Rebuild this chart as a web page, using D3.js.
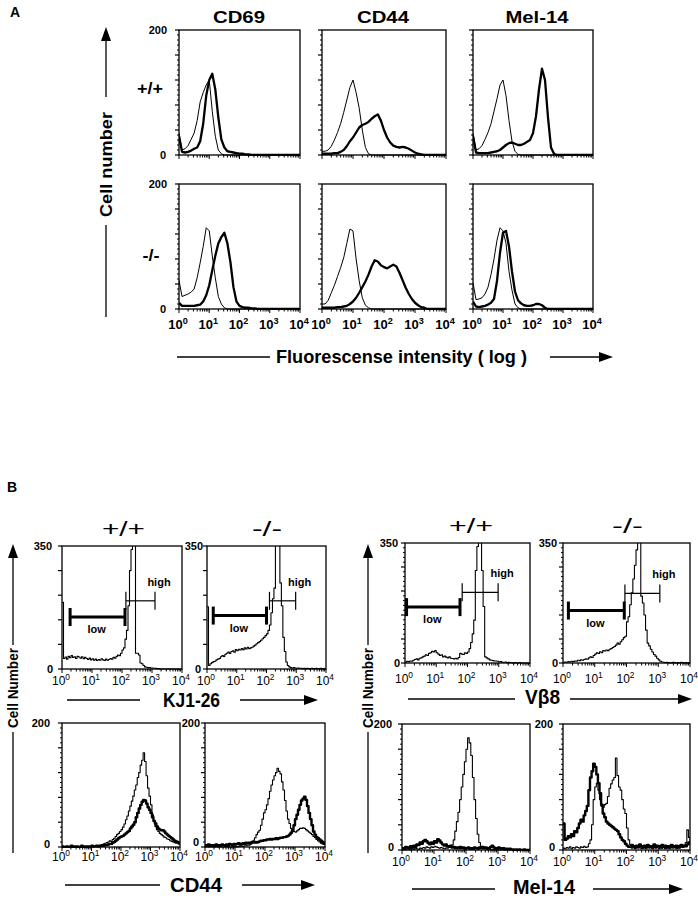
<!DOCTYPE html>
<html><head><meta charset="utf-8">
<script src="https://cdn.jsdelivr.net/npm/d3@7"></script>
<style>body{margin:0;background:#fff}svg{display:block}text{font-family:"Liberation Sans",Arial,Helvetica,sans-serif;fill:#000}</style>
</head><body><svg id="c" width="698" height="899"></svg>
<script>
// ---------------- DATA ----------------
const titlesA = ["CD69", "CD44", "Mel-14"];
const genotypes = ["+/+", "-/-"];
const decadeExps = [0, 1, 2, 3, 4];
const topMarkersB = ["KJ1-26", "Vβ8"];
const bottomMarkersB = ["CD44", "Mel-14"];
const ymaxA = 200, ymaxBTop = 350, ymaxBBottom = 200;
const yAxisTitleA = "Cell number", xAxisTitleA = "Fluorescense intensity ( log )";
const yAxisTitleB = "Cell Number";

// Panel A: counts at log10 intensity 0.0,0.1,...,4.0
const cd69WtThin  = [35,8,10,15,25,35,55,85,100,112,120,70,30,8,2,0,0,0,0,0,0,0,0,0,0,0,0,0,0,0,0,0,0,0,0,0,0,0,0,0,0];
const cd69WtThick = [30,5,4,5,7,10,12,22,50,95,120,130,105,60,25,12,6,5,4,3,2,2,1,1,0,0,0,0,0,0,0,0,0,0,0,0,0,0,0,0,0];
const cd44WtThin  = [6,6,8,14,24,36,50,68,88,108,120,100,75,40,12,2,0,0,0,0,0,0,0,0,0,0,0,0,0,0,0,0,0,0,0,0,0,0,0,0,0];
const cd44WtThick = [2,2,2,2,3,3,5,8,14,22,28,36,44,48,50,53,58,62,65,55,40,28,20,15,13,12,13,12,10,7,4,2,1,0,0,0,0,0,0,0,0];
const melWtThin   = [35,8,10,15,25,36,50,70,90,112,120,95,55,22,6,1,0,0,0,0,0,0,0,0,0,0,0,0,0,0,0,0,0,0,0,0,0,0,0,0,0];
const melWtThick  = [30,4,3,3,3,3,4,5,6,8,12,16,19,20,18,16,16,18,21,24,35,62,105,138,120,60,12,2,0,0,0,0,0,0,0,0,0,0,0,0,0];
const cd69KoThin  = [46,20,22,24,27,32,50,74,100,130,125,85,50,20,8,2,0,0,0,0,0,0,0,0,0,0,0,0,0,0,0,0,0,0,0,0,0,0,0,0,0];
const cd69KoThick = [10,5,5,5,5,5,6,7,12,22,38,62,85,105,115,122,105,75,35,12,5,3,2,2,1,1,0,0,0,0,0,0,0,0,0,0,0,0,0,0,0];
const cd44KoThin  = [8,8,14,26,38,52,66,82,105,128,125,80,45,18,6,2,0,0,0,0,0,0,0,0,0,0,0,0,0,0,0,0,0,0,0,0,0,0,0,0,0];
const cd44KoThick = [2,2,2,2,2,3,3,4,5,8,12,18,26,35,44,55,68,78,76,70,67,65,68,71,68,58,46,34,24,16,10,6,3,2,0,0,0,0,0,0,0];
const melKoThin   = [42,15,16,18,24,35,55,80,110,130,125,105,60,30,8,2,0,0,0,0,0,0,0,0,0,0,0,0,0,0,0,0,0,0,0,0,0,0,0,0,0];
const melKoThick  = [12,4,3,4,5,7,10,16,45,90,122,125,100,60,28,14,9,6,5,5,6,8,8,6,2,0,0,0,0,0,0,0,0,0,0,0,0,0,0,0,0];

// Panel B: counts at log10 intensity 0.00,0.05,...,4.00
const kjWt = [190,30,34,28,36,32,38,33,35,30, 36,34,31,35,29,33,30,27,31,26, 29,25,28,24,27,25,29,26,24,28, 25,27,30,28,33,31,36,40,38,45,
  54,60,85,110,180,280,340,420,420,45, 45,40,17,15,10,6,5,4,4,3, 3,2,2,1,1,0,0,0,0,0, 0,0,0,0,0,0,0,0,0,0, 0];
const kjKo = [177,10,15,18,21,22,26,28,30,35, 38,36,42,45,48,44,50,52,48,55, 52,56,54,58,55,60,57,62,58,60, 62,65,68,72,75,78,82,86,90,95,
  100,110,125,160,200,230,380,400,400,245, 180,90,50,20,10,6,4,3,4,3, 2,3,2,2,1,2,1,2,1,1, 2,1,1,2,1,1,2,1,1,0, 1];
const vbWt = [3,5,4,6,5,8,10,12,9,14, 15,18,20,24,22,28,30,34,32,36, 30,26,22,24,18,20,17,15,18,14, 13,12,14,12,16,28,26,25,30,28,
  32,42,60,85,125,270,340,400,400,270, 165,18,15,12,9,8,7,6,6,5, 3,4,2,2,3,1,2,1,1,0, 1,0,0,1,0,0,0,0,0,0, 0];
const vbKo = [2,3,2,4,3,5,4,6,5,8, 7,9,8,10,12,11,15,18,16,22, 26,30,28,33,30,36,35,38,36,40, 42,45,48,52,58,55,62,68,74,78,
  120,135,170,205,245,285,330,400,400,195, 175,140,96,58,50,40,32,25,20,14, 9,5,3,2,1,2,1,0,1,2, 1,0,1,0,2,1,0,1,0,1, 0];
const cd44BWtThin = [0,0,1,0,0,1,0,0,0,1, 0,0,1,0,0,1,0,1,0,0, 1,0,1,1,0,2,3,4,5,6, 7,8,10,9,12,14,17,20,22,25,
  28,32,37,44,50,58,66,74,82,92, 100,112,120,132,140,152,138,115,95,82, 68,52,42,33,28,25,22,20,18,16, 15,13,12,10,9,8,7,6,6,5, 4];
const cd44BWtThick = [1,0,0,1,0,0,2,0,1,0, 1,0,0,2,1,0,1,0,1,1, 2,1,1,2,1,2,2,3,2,3, 3,4,5,5,7,8,10,12,14,16,
  17,18,20,22,24,26,30,33,36,40, 48,55,62,68,73,76,75,70,64,60, 55,48,42,38,33,30,28,27,27,25, 22,20,18,16,14,12,10,9,8,6, 5];
const cd44BKoThin = [0,1,0,0,1,0,0,1,0,0, 1,0,0,1,0,1,0,0,1,0, 1,0,1,1,2,1,2,2,3,3, 5,8,11,15,20,24,27,35,45,55,
  60,68,78,90,100,108,115,120,127,122, 118,105,92,75,58,45,38,30,26,25, 24,26,28,30,30,31,30,28,26,24, 22,20,17,15,12,10,8,6,5,4, 3];
const cd44BKoThick = [3,2,4,2,3,2,3,4,2,3, 3,4,3,2,4,3,5,4,3,5, 4,5,6,4,5,6,5,7,6,7, 6,8,7,8,7,8,9,10,10,11,
  11,12,12,13,12,13,13,14,13,14, 15,15,16,16,17,18,20,23,27,35, 45,52,60,68,75,78,81,76,66,55, 45,35,25,20,16,14,12,10,8,6, 5];
const melBWtThin = [0,1,0,2,1,0,2,1,3,2, 1,3,2,4,3,5,4,3,5,4, 6,5,4,3,4,3,2,3,3,4, 5,8,16,30,45,60,80,100,120,140,
  160,178,170,150,115,80,50,25,12,6, 3,2,3,1,2,1,0,1,0,1, 0,0,1,0,0,0,1,0,0,0, 0,0,0,0,0,0,0,0,0,0, 0];
const melBWtThick = [3,2,5,4,3,6,4,7,5,9, 8,12,10,14,16,14,11,9,12,10, 14,12,17,15,12,9,7,9,6,5, 7,4,5,3,4,3,5,3,4,2,
  3,4,2,3,2,4,3,2,4,3, 5,3,4,2,3,5,7,4,3,2, 4,3,2,3,1,2,1,2,1,1, 0,1,0,1,0,0,1,0,0,0, 0];
const melBKoThick = [42,16,18,22,20,25,22,30,28,35, 42,48,45,55,62,70,95,115,125,137, 132,120,106,90,72,58,52,45,42,40, 38,36,34,32,30,25,20,16,14,10,
  7,5,5,8,6,4,7,5,9,6, 4,7,5,8,5,6,4,9,5,7, 6,4,8,5,7,4,6,5,8,6, 5,7,4,6,8,5,7,6,9,12, 8];
const melBKoThin = [3,2,4,3,5,2,4,3,5,4, 3,5,4,6,4,5,10,16,40,80, 100,106,95,80,69,68,72,74,85,98, 105,111,115,146,118,100,95,80,65,58,
  35,16,8,3,5,2,4,3,6,2, 3,5,2,4,3,6,2,5,3,4, 2,6,3,4,2,5,3,2,4,3, 5,2,4,3,6,4,8,12,32,20, 10];

// gates: [from log, to log, count level]
const gateKjWt = {low:[0.27,2.1,148], high:[2.13,3.1,194]};
const gateKjKo = {low:[0.21,2.0,152], high:[2.1,2.98,194]};
const gateVbWt = {low:[0.05,1.76,163], high:[1.83,2.98,206]};
const gateVbKo = {low:[0.17,1.93,153], high:[1.95,3.05,203]};

// ---------------- DRAWING ----------------
const svg = d3.select("#c");
const gridA = d3.range(0, 4.0001, 0.1);
const gridB = d3.range(0, 4.0001, 0.05);
let clipN = 0;

function panel(p){
  const x = d3.scaleLog().domain([1, 1e4]).range([p.x0, p.x1]);
  const y = d3.scaleLinear().domain([0, p.ymax]).range([p.y1, p.y0]);
  const id = "clip" + (clipN++);
  svg.append("clipPath").attr("id", id).append("rect")
    .attr("x", p.x0).attr("y", p.y0).attr("width", p.x1 - p.x0).attr("height", p.y1 - p.y0 + 1);
  const g = svg.append("g");
  p.series.forEach(s => {
    const pts = s.grid.map((e, i) => [e, s.values[i]]);
    g.append("path").attr("clip-path", `url(#${id})`)
      .attr("d", d3.line().x(d => x(Math.pow(10, d[0]))).y(d => y(d[1])).curve(s.curve)(pts))
      .attr("fill", "none").attr("stroke", "#000").attr("stroke-width", s.w).attr("stroke-linejoin", "round");
  });
  g.append("rect").attr("x", p.x0).attr("y", p.y0).attr("width", p.x1 - p.x0).attr("height", p.y1 - p.y0)
    .attr("fill", "none").attr("stroke", "#000").attr("stroke-width", 1.3);
  // x ticks (log)
  x.ticks().forEach(v => {
    const lv = Math.log10(v), major = Math.abs(lv - Math.round(lv)) < 1e-9;
    g.append("line").attr("x1", x(v)).attr("x2", x(v)).attr("y1", p.y1).attr("y2", p.y1 + (major ? 4 : 2.5))
      .attr("stroke", "#000").attr("stroke-width", 1);
  });
  // y ticks
  const step = p.ymax / 25;
  d3.range(0, 26).forEach(k => {
    const major = k % 5 === 0;
    if (!major && !p.minor) return;
    const yy = y(k * step);
    g.append("line").attr("x1", p.x0).attr("x2", p.x0 - (major ? 4 : 2)).attr("y1", yy).attr("y2", yy)
      .attr("stroke", "#000").attr("stroke-width", major ? 1.2 : 1);
  });
  // y labels
  if (p.ylab) {
    g.append("text").attr("x", p.x0 - p.lab).attr("y", y(p.ymax) + 4).attr("text-anchor", "end")
      .attr("font-size", 11).attr("font-weight", "bold").text(p.ymax);
    g.append("text").attr("x", p.x0 - p.lab0).attr("y", y(0) + (p.y0lift || 4)).attr("text-anchor", "end")
      .attr("font-size", 11).attr("font-weight", "bold").text(0);
  }
  // x labels
  if (p.xlab) {
    decadeExps.forEach(e => {
      const t = g.append("text").attr("x", x(Math.pow(10, e)) - 1).attr("y", p.y1 + p.xlab)
        .attr("text-anchor", "middle").attr("font-size", p.xfs).attr("font-weight", p.xfw);
      t.append("tspan").text("10");
      t.append("tspan").attr("dy", -5).attr("font-size", p.xfs * 0.7).text(e);
    });
  }
  // gates
  if (p.gate) {
    const gl = p.gate.low, gh = p.gate.high;
    const ly = y(gl[2]), hy = y(gh[2]);
    const lx0 = x(Math.pow(10, gl[0])), lx1 = x(Math.pow(10, gl[1]));
    const hx0 = x(Math.pow(10, gh[0])), hx1 = x(Math.pow(10, gh[1]));
    g.append("line").attr("x1", lx0).attr("x2", lx1).attr("y1", ly).attr("y2", ly).attr("stroke", "#000").attr("stroke-width", 3);
    [lx0, lx1].forEach(xx => g.append("line").attr("x1", xx).attr("x2", xx).attr("y1", ly - 9).attr("y2", ly + 9).attr("stroke", "#000").attr("stroke-width", 3));
    g.append("line").attr("x1", hx0).attr("x2", hx1).attr("y1", hy).attr("y2", hy).attr("stroke", "#000").attr("stroke-width", 1.2);
    [hx0, hx1].forEach(xx => g.append("line").attr("x1", xx).attr("x2", xx).attr("y1", hy - 9).attr("y2", hy + 9).attr("stroke", "#000").attr("stroke-width", 1.2));
    g.append("text").attr("x", (lx0 + lx1) / 2 - 1).attr("y", ly + 16).attr("text-anchor", "middle")
      .attr("font-size", 11).attr("font-weight", "bold").text("low");
    g.append("text").attr("x", hx1 + 4).attr("y", hy - 15).attr("text-anchor", "middle")
      .attr("font-size", 11).attr("font-weight", "bold").text("high");
  }
}

function txt(x, y, s, fs, fw, len, anchor){
  const t = svg.append("text").attr("x", x).attr("y", y).attr("font-size", fs).attr("font-weight", fw)
    .attr("text-anchor", anchor || "middle").text(s);
  if (len) t.attr("textLength", len).attr("lengthAdjust", "spacingAndGlyphs");
  return t;
}
function vtxt(x, cy, s, fs, len){
  svg.append("text").attr("transform", `translate(${x},${cy}) rotate(-90)`).attr("text-anchor", "middle")
    .attr("dominant-baseline", "central").attr("font-size", fs).attr("font-weight", "bold")
    .attr("textLength", len).attr("lengthAdjust", "spacingAndGlyphs").text(s);
}
function hline(y, x0, x1){ svg.append("line").attr("x1", x0).attr("x2", x1).attr("y1", y).attr("y2", y).attr("stroke", "#000").attr("stroke-width", 1.3); }
function vline(x, y0, y1){ svg.append("line").attr("x1", x).attr("x2", x).attr("y1", y0).attr("y2", y1).attr("stroke", "#000").attr("stroke-width", 1.3); }
function arrowR(y, x0, tip){ hline(y, x0, tip - 12); svg.append("path").attr("d", `M${tip},${y}L${tip-14},${y-5}L${tip-14},${y+5}Z`).attr("fill", "#000"); }
function arrowU(x, tip, y1){ vline(x, tip + 12, y1); svg.append("path").attr("d", `M${x},${tip}L${x-5},${tip+14}L${x+5},${tip+14}Z`).attr("fill", "#000"); }

// ----- Panel A -----
const colsA = [[179, 300], [322, 446], [473, 593]];
const rowsA = [[30, 155], [184, 309]];
const seriesA = [
  [[cd69WtThin, cd69WtThick], [cd44WtThin, cd44WtThick], [melWtThin, melWtThick]],
  [[cd69KoThin, cd69KoThick], [cd44KoThin, cd44KoThick], [melKoThin, melKoThick]]
];
rowsA.forEach((r, ri) => colsA.forEach((c, ci) => {
  panel({x0: c[0], x1: c[1], y0: r[0], y1: r[1], ymax: ymaxA, minor: true, ylab: ci === 0, lab: 12, lab0: 13,
    xlab: ri === 1 ? 20 : 0, xfs: 13, xfw: "bold",
    series: [
      {grid: gridA, values: seriesA[ri][ci][0], w: 1, curve: d3.curveLinear},
      {grid: gridA, values: seriesA[ri][ci][1], w: 2.3, curve: d3.curveLinear}
    ]});
}));
txt(10, 17, "A", 14, "bold", null, "start");
const titleCx = [239, 383, 537], titleLen = [52, 52, 63];
titlesA.forEach((t, i) => txt(titleCx[i], 23, t, 17, "bold", titleLen[i]));
txt(150, 94, genotypes[0], 17, "bold", 26);
txt(151, 261, genotypes[1], 17, "bold", 17);
arrowU(106, 27, 97);
vtxt(106, 164.5, yAxisTitleA, 17, 105);
vline(106, 225, 317);
hline(357, 177, 270);
txt(276, 363, xAxisTitleA, 18, "bold", 251, "start");
arrowR(357, 550, 613);

// ----- Panel B -----
txt(7, 492, "B", 14, "bold", null, "start");
const topB = [
  {x0: 62, x1: 182, y0: 546, y1: 669, values: kjWt, gate: gateKjWt, minor: false, lab: 10, lab0: 9, xlab: 16},
  {x0: 207, x1: 326, y0: 546, y1: 669, values: kjKo, gate: gateKjKo, minor: false, lab: 4, lab0: 6, xlab: 16},
  {x0: 405, x1: 530, y0: 543, y1: 663, values: vbWt, gate: gateVbWt, minor: true, lab: 7, lab0: 5, xlab: 20},
  {x0: 563, x1: 690, y0: 543, y1: 663, values: vbKo, gate: gateVbKo, minor: true, lab: 6, lab0: 5, xlab: 20}
];
topB.forEach(p => panel({x0: p.x0, x1: p.x1, y0: p.y0, y1: p.y1, ymax: ymaxBTop, minor: p.minor, ylab: true, lab: p.lab, lab0: p.lab0,
  xlab: p.xlab, xfs: 12, xfw: "normal", gate: p.gate,
  series: [{grid: gridB, values: p.values, w: 1.1, curve: d3.curveStepAfter}]}));
const botB = [
  {x0: 62, x1: 180, y0: 723, y1: 847, v: [cd44BWtThin, cd44BWtThick], lab: 12, lab0: 12, xlab: 14, lift: 1},
  {x0: 205, x1: 325, y0: 723, y1: 847, v: [cd44BKoThin, cd44BKoThick], lab: 5, lab0: 6, xlab: 14, lift: -1},
  {x0: 402, x1: 530, y0: 724, y1: 850, v: [melBWtThin, melBWtThick], lab: 10, lab0: 8, xlab: 16, lift: 1},
  {x0: 563, x1: 690, y0: 724, y1: 850, v: [melBKoThin, melBKoThick], lab: 10, lab0: 8, xlab: 16, lift: 1}
];
botB.forEach(p => panel({x0: p.x0, x1: p.x1, y0: p.y0, y1: p.y1, ymax: ymaxBBottom, minor: true, ylab: true, lab: p.lab, lab0: p.lab0,
  y0lift: p.lift, xlab: p.xlab, xfs: 12, xfw: "normal",
  series: [{grid: gridB, values: p.v[0], w: 1.1, curve: d3.curveStepAfter},
           {grid: gridB, values: p.v[1], w: 2.4, curve: d3.curveStepAfter}]}));
txt(123.5, 536, genotypes[0], 21, "normal", 43);
txt(267, 536, genotypes[1], 21, "normal", 30);
txt(471, 533, genotypes[0], 21, "normal", 44);
txt(627.5, 533, genotypes[1], 21, "normal", 31);
[13, 368].forEach(xx => { arrowU(xx, 544, 645); vtxt(xx, 688, yAxisTitleB, 14, 80); vline(xx, 732, 853); });
hline(700, 67, 140); txt(191.5, 707, topMarkersB[0], 20, "bold", 57); arrowR(700, 240, 318);
hline(699, 408, 515); txt(542.5, 704, topMarkersB[1], 20, "bold", 35); arrowR(699, 570, 692);
hline(885, 65, 160); txt(196, 892, bottomMarkersB[0], 20, "bold", 52); arrowR(885, 242, 315);
hline(889, 412, 495); txt(544, 894, bottomMarkersB[1], 20, "bold", 62); arrowR(889, 593, 683);
</script></body></html>
